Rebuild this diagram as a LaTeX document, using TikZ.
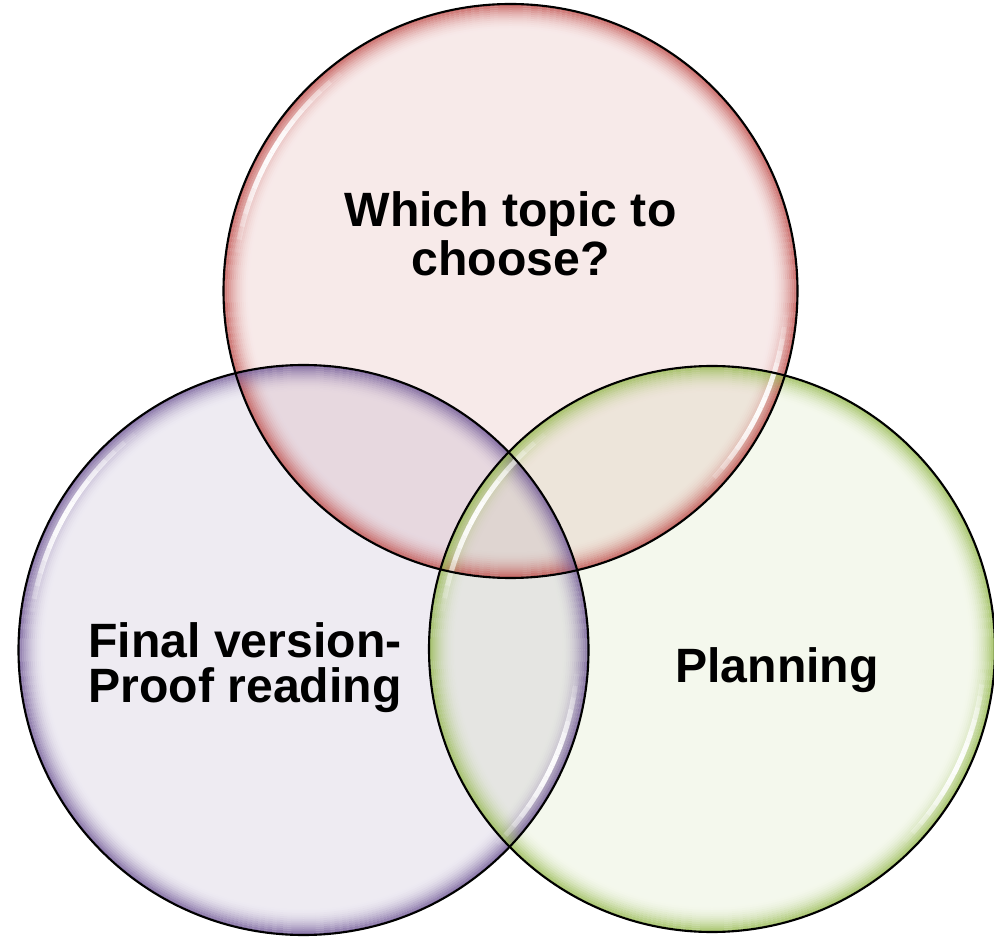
\documentclass[tikz,border=0pt]{standalone}
\usepackage{fontspec}
\setmainfont{Liberation Sans}
\usetikzlibrary{calc}
\definecolor{redC}{RGB}{192,80,77}
\definecolor{purC}{RGB}{112,88,150}
\definecolor{grnC}{RGB}{150,185,80}
\newcommand\edgering[3]{%
  \foreach \i [evaluate=\i as \op using {0.8*(1-\i/13)^2},
               evaluate=\i as \rr using {#2-1-2*\i}] in {0,...,12}
    {\draw[draw=#3, line width=0.02cm, draw opacity=\op] (#1) circle[radius=\rr];}}
\newcommand\gloss[4]{%
  \foreach \k [evaluate=\k as \op using {0.95*sin(180*(\k+0.5)/16)},
               evaluate=\k as \aa using {#3+\k*(#4-#3)/16},
               evaluate=\k as \dd using {(#4-#3)/16}] in {0,...,15}
    {\draw[white, line width=0.05cm, draw opacity=\op] ($(#1)+(\aa:#2)$) arc[start angle=\aa, delta angle=\dd, radius=#2];}}
\tikzset{
  outline/.style={draw=black, line width=0.6pt},
  label/.style={font=\fontsize{13.7}{13.7}\selectfont\bfseries, inner sep=0pt, anchor=base, text=black}
}
\begin{document}
\begin{tikzpicture}[x=0.01cm, y=0.01cm]
\useasboundingbox (0,0) rectangle (994,936);
\coordinate (cr) at (510.5,645);
\coordinate (cp) at (303.5,286);
\coordinate (cg) at (712,287);
% fills
\fill[redC, fill opacity=0.12] (cr) circle[radius=287];
\fill[purC, fill opacity=0.12] (cp) circle[radius=285];
\fill[grnC, fill opacity=0.10] (cg) circle[radius=283];
% inner edge shading
\edgering{cr}{287}{redC}
\edgering{cp}{285}{purC}
\edgering{cg}{283}{grnC}
% gloss highlights
\gloss{cr}{276}{128}{172}
\gloss{cr}{276}{-45}{-5}
\gloss{cp}{274}{128}{172}
\gloss{cp}{274}{-45}{-5}
\gloss{cg}{272}{128}{172}
\gloss{cg}{272}{-45}{-5}
% outlines
\draw[outline] (cr) circle[radius=287];
\draw[outline] (cp) circle[radius=285];
\draw[outline] (cg) circle[radius=283];
% labels
\node[label] (t1a) at (510.5,709) {Which topic to};
\node[label] (t1b) at (510.5,660) {choose?};
\node[label] (t2a) at (245,279) {Final version-};
\node[label] (t2b) at (245,234) {Proof reading};
\node[label] (t3) at (777,254) {Planning};
\end{tikzpicture}
\end{document}
